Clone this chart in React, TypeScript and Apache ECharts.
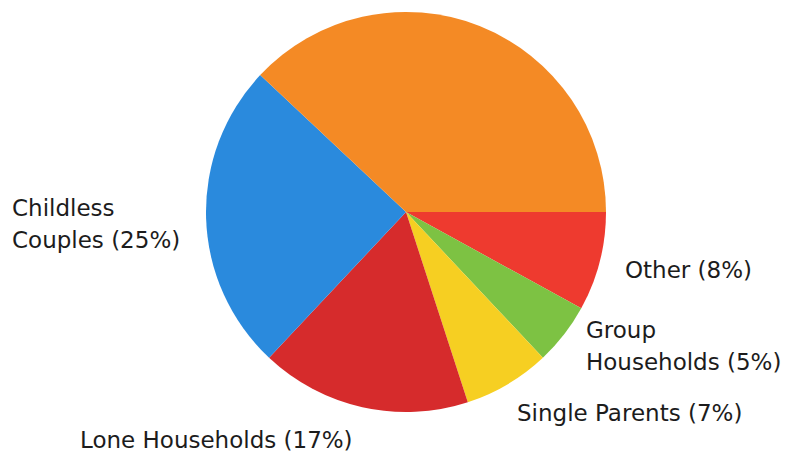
import React, { useEffect, useRef } from "react";
import * as echarts from "echarts";

// Household composition (percent), drawn clockwise from 3 o'clock
const categories = [
  "Other",
  "Group\nHouseholds",
  "Single Parents",
  "Lone Households",
  "Childless\nCouples",
  "Couples with Children",
];
const values = [8, 5, 7, 17, 25, 38];
const showLabel = [true, true, true, true, true, false];
const colors = ["#EE3A2F", "#7DC243", "#F6CF22", "#D62B2C", "#2A8ADD", "#F48A25"];

// label anchor points (left edge, vertical middle) in pixels
const labelAnchors: [number, number][] = [
  [625, 270],
  [586, 346],
  [517, 413],
  [80, 440],
  [12, 224],
  [0, 0],
];

export default function App() {
  const ref = useRef<HTMLDivElement>(null);
  useEffect(() => {
    if (!ref.current) return;
    const chart = echarts.init(ref.current, undefined, { renderer: "svg" });
    chart.setOption({
      animation: false,
      backgroundColor: "#ffffff",
      series: [
        {
          type: "pie",
          center: [406, 212],
          radius: 200,
          startAngle: 0,
          clockwise: true,
          avoidLabelOverlap: false,
          itemStyle: { borderWidth: 0 },
          emphasis: { disabled: true },
          labelLine: { show: false },
          label: {
            position: "outside",
            fontFamily: "DejaVu Sans",
            fontSize: 23,
            lineHeight: 32,
            color: "#1c1c1c",
            formatter: (p: any) => `${p.name} (${p.value}%)`,
          },
          labelLayout: (p: any) => {
            const a = labelAnchors[p.dataIndex];
            return { x: a[0], y: a[1], align: "left", verticalAlign: "middle" };
          },
          data: categories.map((name, i) => ({
            name,
            value: values[i],
            itemStyle: { color: colors[i] },
            label: { show: showLabel[i] },
          })),
        },
      ],
    });
    return () => chart.dispose();
  }, []);
  return (
    <div
      ref={ref}
      style={{ position: "fixed", left: 0, top: 0, width: 791, height: 458 }}
    />
  );
}
